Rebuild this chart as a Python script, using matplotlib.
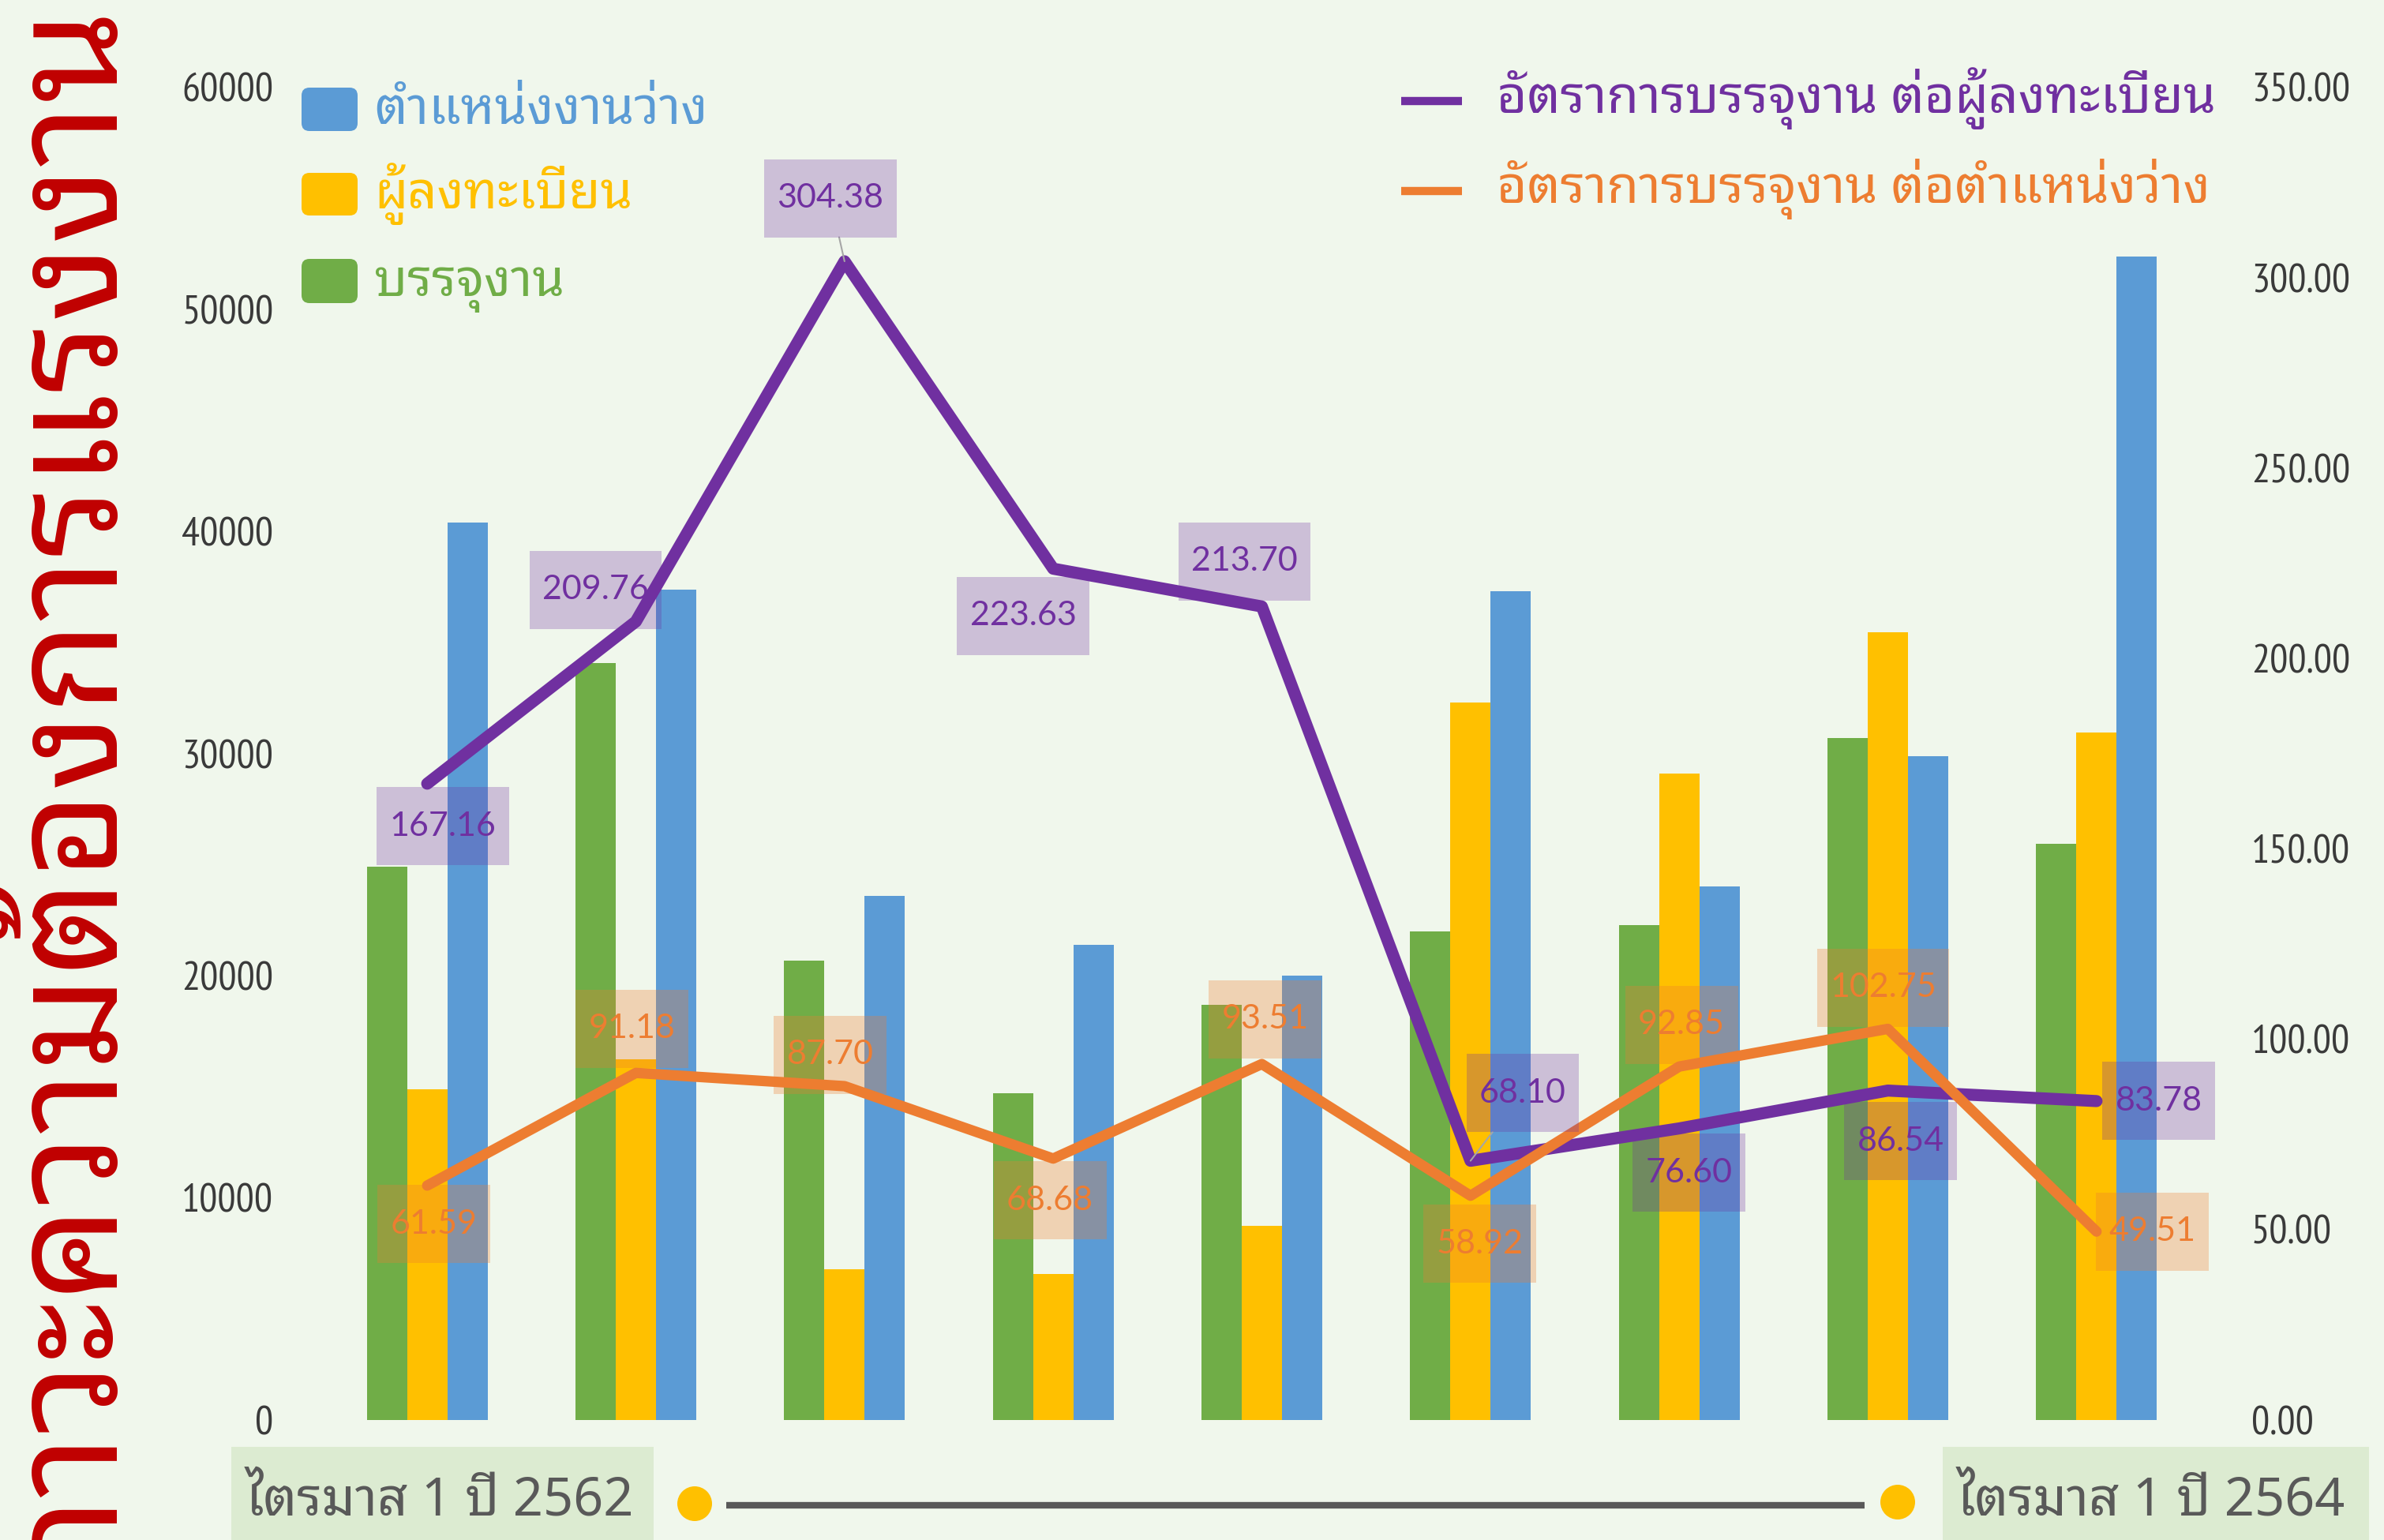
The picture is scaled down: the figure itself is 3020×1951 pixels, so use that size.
import matplotlib
matplotlib.use("Agg")
import matplotlib.pyplot as plt
import numpy as np
from matplotlib.patches import FancyBboxPatch, Circle, Rectangle
from matplotlib.path import Path
from matplotlib.ticker import FuncFormatter

W, H, DPI = 3020, 1951, 100

# quarters from Q1/2562 to Q1/2564
quarters = ["ไตรมาส 1 ปี 2562", "ไตรมาส 2 ปี 2562", "ไตรมาส 3 ปี 2562", "ไตรมาส 4 ปี 2562",
            "ไตรมาส 1 ปี 2563", "ไตรมาส 2 ปี 2563", "ไตรมาส 3 ปี 2563", "ไตรมาส 4 ปี 2563",
            "ไตรมาส 1 ปี 2564"]
placed = [24900, 34100, 20700, 14700, 18700, 22000, 22300, 30700, 25950]       # บรรจุงาน
registered = [14900, 16260, 6800, 6570, 8750, 32300, 29100, 35470, 30970]      # ผู้ลงทะเบียน
vacancies = [40430, 37400, 23600, 21400, 20000, 37340, 24020, 29880, 52410]    # ตำแหน่งงานว่าง
rate_reg = [167.16, 209.76, 304.38, 223.63, 213.70, 68.10, 76.60, 86.54, 83.78]
rate_vac = [61.59, 91.18, 87.70, 68.68, 93.51, 58.92, 92.85, 102.75, 49.51]

bar_names = ["ตำแหน่งงานว่าง", "ผู้ลงทะเบียน", "บรรจุงาน"]
line_names = ["อัตราการบรรจุงาน ต่อผู้ลงทะเบียน", "อัตราการบรรจุงาน ต่อตำแหน่งว่าง"]
title = "ภาวะความต้องการแรงงาน"

BG = "#F0F7EC"
BLUE, YELLOW, GREEN = "#5B9BD5", "#FFC000", "#70AD47"
PURPLE, ORANGE = "#7030A0", "#ED7D31"
GREY = "#595959"

THAI = ["Noto Sans Thai Looped", "IBM Plex Sans Thai Looped", "Noto Sans Thai", "DejaVu Sans"]
NUM = ["Lato", "DejaVu Sans"]
NARROW = ["PT Sans Narrow", "Roboto Condensed", "DejaVu Sans"]
plt.rcParams["font.family"] = THAI

# label offsets in pixels (dx, dy up)
off_reg = [(20, -54), (-51, 40), (-18, 80), (-38, -60), (-22, 57), (66, 86), (12, -56), (16, -64), (79, 0)]
off_vac = [(8, -49), (-5, 56), (-18, 40), (-4, -53), (4, 57), (12, -61), (3, 53), (-6, 52), (71, 0)]
leader_reg = [2, 5]


def label_box(x0, y0, width, height, mutation_size):
    px = 0.38 * mutation_size
    py = (2.3 * mutation_size - height) / 2
    x1, y1, x2, y2 = x0 - px, y0 - py, x0 + width + px, y0 + height + py
    return Path([(x1, y1), (x2, y1), (x2, y2), (x1, y2), (x1, y1)], closed=True)


fig = plt.figure(figsize=(W / DPI, H / DPI), dpi=DPI, facecolor=BG)

# overlay in pixel units for decorations
deco = fig.add_axes([0, 0, 1, 1])
deco.set_xlim(0, W)
deco.set_ylim(H, 0)
deco.axis("off")

ax = fig.add_axes([409 / W, 1 - 1799 / H, (2788 - 409) / W, (1799 - 111) / H])
ax.set_facecolor("none")
x = np.arange(len(placed))
w = 0.193
ax.bar(x - w, placed, w, color=GREEN, zorder=2)
ax.bar(x, registered, w, color=YELLOW, zorder=2)
ax.bar(x + w, vacancies, w, color=BLUE, zorder=2)
ax.set_xlim(-0.5, len(placed) - 0.5)
ax.set_ylim(0, 60000)
ax.set_yticks(np.arange(0, 60001, 10000))
ax.yaxis.set_major_formatter(FuncFormatter(lambda v, p: f"{v:.0f}"))
ax.set_xticks([])
ax.tick_params(axis="y", length=0, pad=45, labelsize=37, labelcolor="#3A3A3A")
for s in ax.spines.values():
    s.set_visible(False)

ax2 = ax.twinx()
ax2.set_ylim(0, 350)
ax2.set_yticks(np.arange(0, 351, 50))
ax2.yaxis.set_major_formatter(FuncFormatter(lambda v, p: f"{v:.2f}"))
ax2.tick_params(axis="y", length=0, pad=46, labelsize=37, labelcolor="#3A3A3A")
for s in ax2.spines.values():
    s.set_visible(False)
for t in ax.get_yticklabels() + ax2.get_yticklabels():
    t.set_fontfamily(NARROW)

ax2.plot(x, rate_reg, color=PURPLE, lw=11, solid_capstyle="round", solid_joinstyle="round", zorder=3)
ax2.plot(x, rate_vac, color=ORANGE, lw=9.5, solid_capstyle="round", solid_joinstyle="round", zorder=3)

for i, v in enumerate(rate_reg):
    arrow = dict(arrowstyle="-", color="#A6A6A6", lw=1.5, shrinkA=0, shrinkB=0) if i in leader_reg else None
    ax2.annotate(f"{v:.2f}", xy=(i, v), xytext=off_reg[i], textcoords="offset pixels",
                 ha="center", va="center", fontsize=31, family=NUM, color=PURPLE, zorder=5,
                 bbox=dict(boxstyle=label_box, fc=(0.44, 0.19, 0.63, 0.28), ec="none"),
                 arrowprops=arrow)
for i, v in enumerate(rate_vac):
    ax2.annotate(f"{v:.2f}", xy=(i, v), xytext=off_vac[i], textcoords="offset pixels",
                 ha="center", va="center", fontsize=31, family=NUM, color=ORANGE, zorder=5,
                 bbox=dict(boxstyle=label_box, fc=(0.93, 0.49, 0.19, 0.3), ec="none"))

# left legend (bars)
for (name, col, y0, y1) in zip(bar_names, [BLUE, YELLOW, GREEN], [111, 219, 328], [166, 273, 384]):
    deco.add_patch(FancyBboxPatch((382, y0), 71, y1 - y0, boxstyle="round,pad=0,rounding_size=10",
                                  fc=col, ec="none"))
    deco.text(474, y1 - 9, name, color=col, fontsize=47, va="baseline", ha="left")

# right legend (lines)
for name, col, yc in zip(line_names, [PURPLE, ORANGE], [128, 242]):
    deco.plot([1775, 1852], [yc, yc], color=col, lw=7.5, solid_capstyle="butt")
    deco.text(1896, yc + 15, name, color=col, fontsize=47.5, va="baseline", ha="left")

# vertical title
fig.text(0.0, 1 - 6 / H, title, rotation=90, ha="left", va="top", color="#C00000", fontsize=137)

# bottom period bar
deco.add_patch(Rectangle((293, 1833), 535, 130, fc="#DCEBD1", ec="none"))
deco.add_patch(Rectangle((2461, 1833), 540, 130, fc="#DCEBD1", ec="none"))
deco.text(311, 1920, quarters[0], color=GREY, fontsize=48, va="baseline", ha="left")
deco.text(2479, 1920, quarters[-1], color=GREY, fontsize=48, va="baseline", ha="left")
deco.plot([920, 2362], [1907, 1907], color=GREY, lw=6, solid_capstyle="butt")
deco.add_patch(Circle((880, 1905), 22, fc=YELLOW, ec="none"))
deco.add_patch(Circle((2404, 1903), 22, fc=YELLOW, ec="none"))

fig.savefig("out.png", dpi=DPI, facecolor=BG)
